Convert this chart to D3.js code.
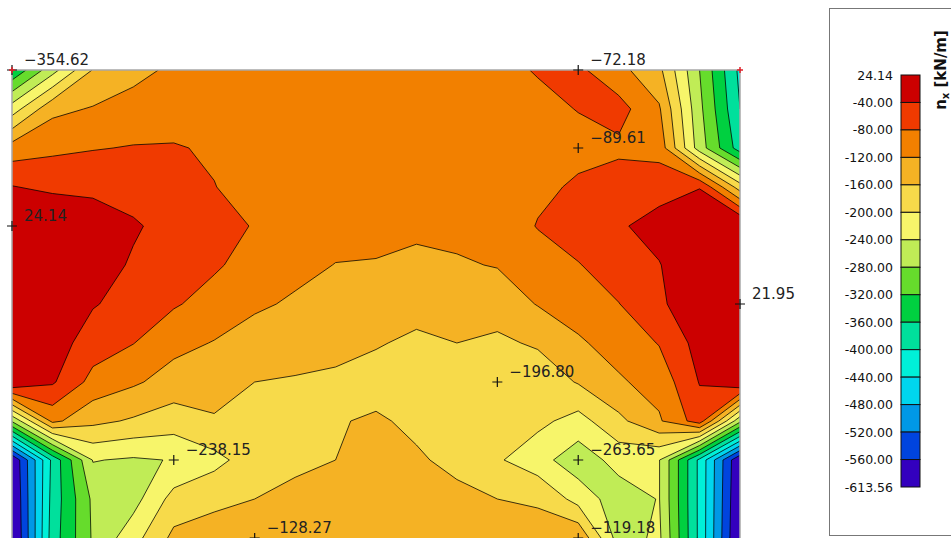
<!DOCTYPE html>
<html><head><meta charset="utf-8">
<script src="https://cdn.jsdelivr.net/npm/d3@7"></script>
<style>body{margin:0;background:#fff;overflow:hidden}svg{display:block}</style>
</head><body>
<svg id="chart" width="951" height="538"></svg>
<script>
// node coordinates of the slab mesh [m]
const xNodes = d3.range(19).map(i => i * 0.5);
const yNodes = d3.range(13).map(j => j * 0.5);
// nx [kN/m] at mesh nodes, row by row (top to bottom)
const row0  = [-354.62,-255,-158,-133,-112,-105,-100,-98,-97,-96,-95,-93,-88,-78,-72.18,-108,-150,-280,-410];
const row1  = [-220,-130,-117,-103,-100,-100,-100,-102,-104,-105,-105,-103,-97,-88,-79,-65,-115,-270,-400];
const row2  = [-102,-88,-82,-78,-77,-85,-95,-97,-100,-100,-100,-98,-95,-91,-89.61,-88,-95,-260,-380];
const row3  = [-38,-50,-50,-57,-65,-79,-95,-100,-103,-105,-106,-104,-100,-88,-75,-60,-55,-42,-180];
const row4  = [24.14,10,-15,-35,-55,-68,-82,-95,-105,-110,-113,-110,-105,-78,-60,-45,-25,0,15];
const row5  = [20,5,-20,-45,-60,-75,-95,-108,-121,-122,-128,-124,-118,-100,-82,-60,-42,-5,18];
const row6  = [15,0,-37,-55,-76,-95,-113,-126,-135,-140,-147,-142,-143,-118,-103,-81,-50,0,21.95];
const row7  = [10,-20,-60,-79,-108,-122,-140,-145,-152,-157,-167,-160,-167,-155,-125,-105,-78,-25,10];
const row8  = [0,-35,-93,-114,-137,-139,-160,-163,-165,-175,-180,-183,-196.8,-185,-157,-125,-105,-38,0];
const row9  = [-275,-110,-150,-165,-180,-165,-175,-165,-163,-155,-168,-180,-190,-190,-215,-170,-125,-60,-270];
const row10 = [-600,-390,-238,-245,-238.15,-212,-180,-168,-160,-150,-155,-170,-195,-225,-263.65,-225,-238,-410,-600];
const row11 = [-608,-385,-272,-255,-185,-170,-160,-150,-145,-140,-140,-150,-160,-163,-215,-262,-238,-410,-605];
const row12 = [-613.56,-380,-275,-215,-150,-140,-128.27,-125,-122,-122,-125,-130,-140,-150,-125,-258,-232,-410,-610];
const grid = [row0,row1,row2,row3,row4,row5,row6,row7,row8,row9,row10,row11,row12];

const thresholds = [-560,-520,-480,-440,-400,-360,-320,-280,-240,-200,-160,-120,-80,-40];
const legendLabels = ["24.14","-40.00","-80.00","-120.00","-160.00","-200.00","-240.00","-280.00","-320.00","-360.00","-400.00","-440.00","-480.00","-520.00","-560.00","-613.56"];
// colours from lowest band to highest band
const bandColors = ["#3300BE","#0044DE","#0098E6","#00D6EE","#00F0D8","#00E09C","#00D040","#66DC2C","#C0EC56","#F7F56A","#F7DA4A","#F5B224","#F28000","#F03A00","#CC0000"];
// labelled extreme values: node indices
const markers = [
  {i:0,j:0,label:"−354.62"},{i:14,j:0,label:"−72.18"},{i:14,j:2,label:"−89.61"},
  {i:0,j:4,label:"24.14"},{i:18,j:6,label:"21.95"},{i:12,j:8,label:"−196.80"},
  {i:4,j:10,label:"−238.15"},{i:14,j:10,label:"−263.65"},{i:6,j:12,label:"−128.27"},{i:14,j:12,label:"−119.18"}
];
const supports = [{i:0,j:0},{i:18,j:0}];

const svg = d3.select("#chart");
const x = d3.scaleLinear().domain([0, 9]).range([12, 740]);
const y = d3.scaleLinear().domain([0, 6]).range([70, 538]);
const nx = xNodes.length, ny = yNodes.length;

const proj = d3.geoTransform({
  point(px, py) { this.stream.point(x((px - 0.5) * 0.5), y((py - 0.5) * 0.5)); }
});
const path = d3.geoPath(proj);

svg.append("clipPath").attr("id", "clip").append("rect")
  .attr("x", x(0)).attr("y", y(0)).attr("width", x(9) - x(0)).attr("height", y(6) - y(0) + 2);

const plot = svg.append("g").attr("clip-path", "url(#clip)");
plot.append("rect").attr("x", x(0)).attr("y", y(0)).attr("width", x(9) - x(0)).attr("height", y(6) - y(0) + 2)
  .attr("fill", bandColors[0]);

const contours = d3.contours().size([nx, ny]).thresholds(thresholds)(grid.flat());
plot.selectAll("path.band").data(contours).join("path").attr("class", "band")
  .attr("d", path).attr("fill", (d, k) => bandColors[k + 1]).attr("stroke", "none");
plot.selectAll("path.line").data(contours).join("path").attr("class", "line")
  .attr("d", path).attr("fill", "none").attr("stroke", "#000").attr("stroke-width", 0.9).attr("stroke-opacity", 0.85);

// frame
svg.append("path").attr("d", `M${x(0)},${y(6)+2}V${y(0)}H${x(9)}V${y(6)+2}`)
  .attr("fill", "none").attr("stroke", "#a8a8a8").attr("stroke-width", 1.5);

// markers
const mk = svg.append("g");
markers.forEach(m => {
  const px = x(xNodes[m.i]), py = y(yNodes[m.j]);
  mk.append("path").attr("d", `M${px-5},${py}H${px+5}M${px},${py-5}V${py+5}`).attr("stroke", "#111").attr("stroke-width", 1.2);
  mk.append("text").attr("x", px + 12).attr("y", py - 5).text(m.label)
    .attr("font-family", "DejaVu Sans").attr("font-size", 15).attr("fill", "#222");
});
supports.forEach(s => {
  const px = x(xNodes[s.i]), py = y(yNodes[s.j]);
  mk.append("path").attr("d", `M${px-3},${py}H${px+3}M${px},${py-3}V${py+3}`).attr("stroke", "#e0202a").attr("stroke-width", 1.5);
});

// legend
const lg = svg.append("g");
lg.append("rect").attr("x", 829.5).attr("y", 8.5).attr("width", 130).attr("height", 527)
  .attr("fill", "#fff").attr("stroke", "#777");
const ly = d3.scaleLinear().domain([0, 15]).range([75, 487]);
const bandsTopDown = bandColors.slice().reverse();
lg.selectAll("rect.sw").data(bandsTopDown).join("rect").attr("class", "sw")
  .attr("x", 901).attr("y", (d, k) => ly(k)).attr("width", 19).attr("height", ly(1) - ly(0))
  .attr("fill", d => d).attr("stroke", "#111").attr("stroke-width", 1);
lg.selectAll("text.lab").data(legendLabels).join("text").attr("class", "lab")
  .attr("x", 893).attr("y", (d, k) => ly(k)).attr("dy", "0.36em").attr("text-anchor", "end")
  .attr("font-family", "DejaVu Sans").attr("font-size", 12.5).attr("fill", "#111").text(d => d);
const title = lg.append("text").attr("transform", "translate(946,70) rotate(-90)")
  .attr("text-anchor", "middle").attr("font-family", "DejaVu Sans").attr("font-weight", "bold")
  .attr("font-size", 15).attr("fill", "#111");
title.append("tspan").text("n");
title.append("tspan").attr("font-size", 10).attr("dy", 3).text("x");
title.append("tspan").attr("dy", -3).text(" [kN/m]");
</script>
</body></html>
